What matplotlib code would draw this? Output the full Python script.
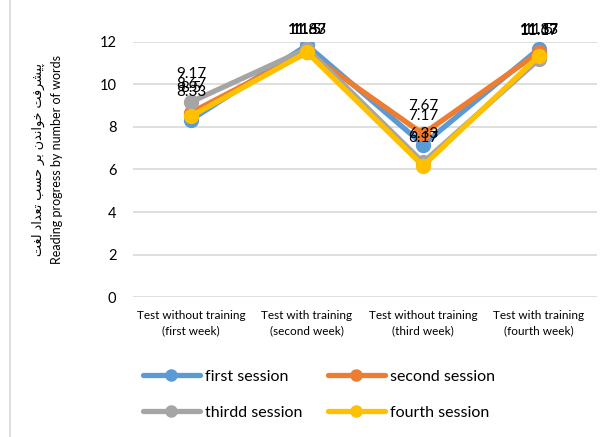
import matplotlib
matplotlib.use("Agg")
import matplotlib.pyplot as plt
from matplotlib.lines import Line2D

# weekly test results per session
categories = ["Test without training\n(first week)", "Test with training\n(second week)",
              "Test without training\n(third week)", "Test with training\n(fourth week)"]
first_session = [8.33, 11.83, 7.17, 11.67]
second_session = [8.67, 11.5, 7.67, 11.5]
third_session = [9.17, 11.67, 6.33, 11.17]
fourth_session = [8.5, 11.5, 6.17, 11.33]
series_names = ["first session", "second session", "thirdd session", "fourth session"]
colors = ["#5B9BD5", "#ED7D31", "#A5A5A5", "#FFC000"]

ylabel_fa = "پیشرفت خواندن بر حسب تعداد لغت"
ylabel_en = "Reading progress by number of words"

# contextual forms (isolated, final, initial, medial) for the letters used
FORMS = {
    "پ": ("\uFB56", "\uFB57", "\uFB58", "\uFB59"),
    "ی": ("\uFBFC", "\uFBFD", "\uFBFE", "\uFBFF"),
    "ش": ("\uFEB5", "\uFEB6", "\uFEB7", "\uFEB8"),
    "ر": ("\uFEAD", "\uFEAE", "\uFEAD", "\uFEAE"),
    "ف": ("\uFED1", "\uFED2", "\uFED3", "\uFED4"),
    "ت": ("\uFE95", "\uFE96", "\uFE97", "\uFE98"),
    "خ": ("\uFEA5", "\uFEA6", "\uFEA7", "\uFEA8"),
    "و": ("\uFEED", "\uFEEE", "\uFEED", "\uFEEE"),
    "ا": ("\uFE8D", "\uFE8E", "\uFE8D", "\uFE8E"),
    "ن": ("\uFEE5", "\uFEE6", "\uFEE7", "\uFEE8"),
    "د": ("\uFEA9", "\uFEAA", "\uFEA9", "\uFEAA"),
    "ب": ("\uFE8F", "\uFE90", "\uFE91", "\uFE92"),
    "ح": ("\uFEA1", "\uFEA2", "\uFEA3", "\uFEA4"),
    "س": ("\uFEB1", "\uFEB2", "\uFEB3", "\uFEB4"),
    "ع": ("\uFEC9", "\uFECA", "\uFECB", "\uFECC"),
    "ل": ("\uFEDD", "\uFEDE", "\uFEDF", "\uFEE0"),
    "غ": ("\uFECD", "\uFECE", "\uFECF", "\uFED0"),
}
RIGHT_ONLY = set("اددذرزژو")


def shape_rtl(text):
    out = []
    for i, ch in enumerate(text):
        if ch not in FORMS:
            out.append(ch)
            continue
        prev = text[i - 1] if i > 0 else ""
        nxt = text[i + 1] if i + 1 < len(text) else ""
        j_prev = prev in FORMS and prev not in RIGHT_ONLY
        j_next = nxt in FORMS and ch not in RIGHT_ONLY
        idx = 3 if (j_prev and j_next) else 1 if j_prev else 2 if j_next else 0
        out.append(FORMS[ch][idx])
    return "".join(out)[::-1]


plt.rcParams["font.family"] = ["Lato", "DejaVu Sans"]

fig = plt.figure(figsize=(6.13, 4.37), dpi=100)
ax = fig.add_axes([0.217, 0.3197, 0.757, 0.585])

x = list(range(len(categories)))
all_series = [first_session, second_session, third_session, fourth_session]
lines = []
for vals, name, c in zip(all_series, series_names, colors):
    ln, = ax.plot(x, vals, color=c, lw=3.8, marker="o", ms=10, label=name,
                  solid_joinstyle="round", solid_capstyle="round", zorder=3)
    lines.append(ln)

# data labels sit above each point, kept inside the chart area
for vals in all_series:
    for i, v in enumerate(vals):
        ly = min(v + 1.32, 12.55)
        ax.text(i, ly, f"{v:g}", ha="center", va="center", fontsize=11,
                color="#000000", zorder=5, clip_on=False)

ax.set_xlim(-0.5, 3.5)
ax.set_ylim(0, 12)
ax.set_yticks(range(0, 13, 2))
ax.set_xticks(x)
ax.set_xticklabels(categories, fontsize=8.5, color="#000000", linespacing=1.45)
ax.tick_params(axis="y", labelsize=10.5, length=0, pad=12, colors="#000000")
ax.tick_params(axis="x", length=0, pad=9)
ax.grid(axis="y", color="#D9D9D9", lw=1.2)
ax.set_axisbelow(True)
for s in ax.spines.values():
    s.set_visible(False)

fig.text(0.062, 0.634, shape_rtl(ylabel_fa), rotation=90, ha="center", va="center",
         fontsize=9.2, family=["DejaVu Sans"])
fig.text(0.093, 0.634, ylabel_en, rotation=90, ha="center", va="center", fontsize=9)

# legend rows: first/second on top, third/fourth below
order = [0, 2, 1, 3]
fig.legend([lines[k] for k in order], [series_names[k] for k in order],
           loc="center", bbox_to_anchor=(0.52, 0.097), ncol=2, frameon=False,
           fontsize=11.5, handlelength=3.6, columnspacing=1.6, labelspacing=1.35,
           markerscale=0.8, handletextpad=0.3)

fig.add_artist(Line2D([0.017, 0.017], [0, 1], transform=fig.transFigure,
                      color="#D9D9D9", lw=1.2))

fig.savefig("out.png", dpi=100)
